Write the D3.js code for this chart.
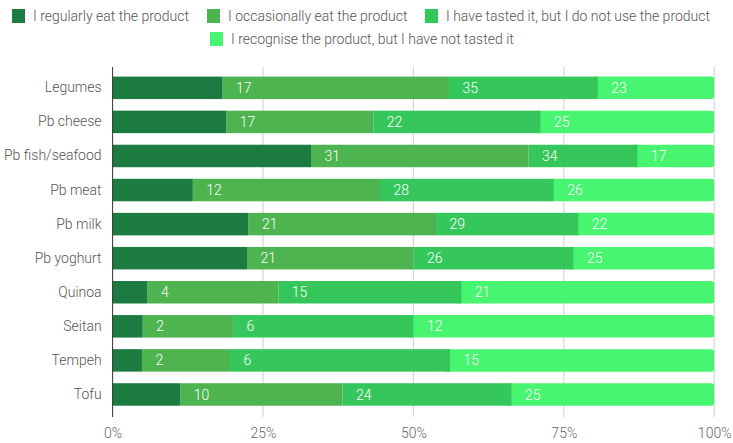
<!DOCTYPE html>
<html>
<head>
<meta charset="utf-8">
<script src="https://cdn.jsdelivr.net/npm/d3@7"></script>
<style>
  body { margin: 0; background: #fff; }
  text { font-family: Roboto, "Liberation Sans", sans-serif; font-weight: 300; }
</style>
</head>
<body>
<div id="chart-area"></div>
<script>
// categories (top to bottom)
const products = ["Legumes", "Pb cheese", "Pb fish/seafood", "Pb meat", "Pb milk",
  "Pb yoghurt", "Quinoa", "Seitan", "Tempeh", "Tofu"];

// series
const seriesNames = [
  "I regularly eat the product",
  "I occasionally eat the product",
  "I have tasted it, but I do not use the product",
  "I recognise the product, but I have not tasted it"
];
const regularly   = [17, 17, 31, 12, 21, 21,  4,  2,  2, 10];
const occasional  = [35, 22, 34, 28, 29, 26, 15,  6,  6, 24];
const tasted      = [23, 25, 17, 26, 22, 25, 21, 12, 15, 25];
const recognise   = [18, 26, 12, 24, 21, 22, 29, 20, 18, 30];

const tickValues = [0, 0.25, 0.5, 0.75, 1];
const colors = ["#1b7b40", "#4db450", "#36c75c", "#48f571"];

const WIDTH = 733, HEIGHT = 443;

const svg = d3.select("#chart-area").append("svg")
  .attr("width", WIDTH)
  .attr("height", HEIGHT);

// build rows from the arrays
const rows = products.map((p, i) => {
  const vals = [regularly[i], occasional[i], tasted[i], recognise[i]];
  const total = d3.sum(vals);
  let cum = 0;
  const segs = vals.map((v, k) => {
    const s = { key: k, value: v, x0: cum / total };
    cum += v;
    s.x1 = cum / total;
    return s;
  });
  return { product: p, segs };
});

// scales
const x = d3.scaleLinear().domain([0, 1]).range([112.6, 714.2]);
const y = d3.scaleBand().domain(products)
  .range([70.8, 411.5])
  .paddingInner(0.34)
  .paddingOuter(0.17);

// gridlines
const gridTop = 67, gridBottom = 417;
svg.append("g").attr("class", "grid")
  .selectAll("line")
  .data(tickValues.slice(1))
  .join("line")
    .attr("x1", d => x(d)).attr("x2", d => x(d))
    .attr("y1", gridTop).attr("y2", gridBottom)
    .attr("stroke", "#d6d6d6")
    .attr("stroke-width", 1.2);

// x tick labels
const xAxisCall = d3.axisBottom(x)
  .tickValues(tickValues)
  .tickFormat(d3.format(".0%"))
  .tickSize(0)
  .tickPadding(0);
const xAxis = svg.append("g")
  .attr("transform", `translate(0, 438)`)
  .call(xAxisCall);
xAxis.select(".domain").remove();
xAxis.selectAll("text")
  .attr("dy", null)
  .attr("font-size", "14px")
  .attr("fill", "#666")
  .attr("font-family", "Roboto, sans-serif");

// bars
const rowG = svg.append("g").selectAll("g.row")
  .data(rows)
  .join("g")
    .attr("class", "row")
    .attr("transform", d => `translate(0, ${y(d.product)})`);

// draw last segment first so its rounded corners only show on the right
rowG.selectAll("rect")
  .data(d => d.segs.slice().reverse())
  .join("rect")
    .attr("x", s => s.key === 3 ? x(s.x0) - 6 : x(s.x0))
    .attr("width", s => s.key === 3 ? x(s.x1) - x(s.x0) + 6 : x(s.x1) - x(s.x0))
    .attr("y", 0)
    .attr("height", y.bandwidth())
    .attr("rx", s => s.key === 3 ? 3 : 0)
    .attr("fill", s => colors[s.key]);

// value labels sit just past the end of their segment
rowG.selectAll("text.val")
  .data(d => d.segs.filter(s => s.key < 3))
  .join("text")
    .attr("class", "val")
    .attr("x", s => x(s.x1) + 13.5)
    .attr("y", y.bandwidth() / 2)
    .attr("dy", "0.36em")
    .attr("font-size", "14px")
    .attr("fill", "#fff")
    .text(s => s.value);

// y axis labels + axis line
const yAxisCall = d3.axisLeft(y).tickSize(0).tickPadding(11);
const yAxis = svg.append("g")
  .attr("transform", `translate(${x(0)}, 0)`)
  .call(yAxisCall);
yAxis.select(".domain").remove();
yAxis.selectAll("text")
  .attr("font-size", "14px")
  .attr("fill", "#555")
  .attr("font-family", "Roboto, sans-serif");

svg.append("line")
  .attr("x1", x(0)).attr("x2", x(0))
  .attr("y1", gridTop).attr("y2", gridBottom)
  .attr("stroke", "#333")
  .attr("stroke-width", 1);

// legend
const legendPos = [
  { x: 12, y: 16 }, { x: 207, y: 16 }, { x: 425, y: 16 }, { x: 210, y: 39 }
];
const legend = svg.append("g").selectAll("g")
  .data(seriesNames)
  .join("g")
    .attr("transform", (d, i) => `translate(${legendPos[i].x}, ${legendPos[i].y})`);

legend.append("rect")
  .attr("x", 0).attr("y", -7)
  .attr("width", 13).attr("height", 14)
  .attr("fill", (d, i) => colors[i]);

legend.append("text")
  .attr("x", 21)
  .attr("dy", "0.36em")
  .attr("font-size", "14px")
  .attr("fill", "#555")
  .text(d => d);
</script>
</body>
</html>
